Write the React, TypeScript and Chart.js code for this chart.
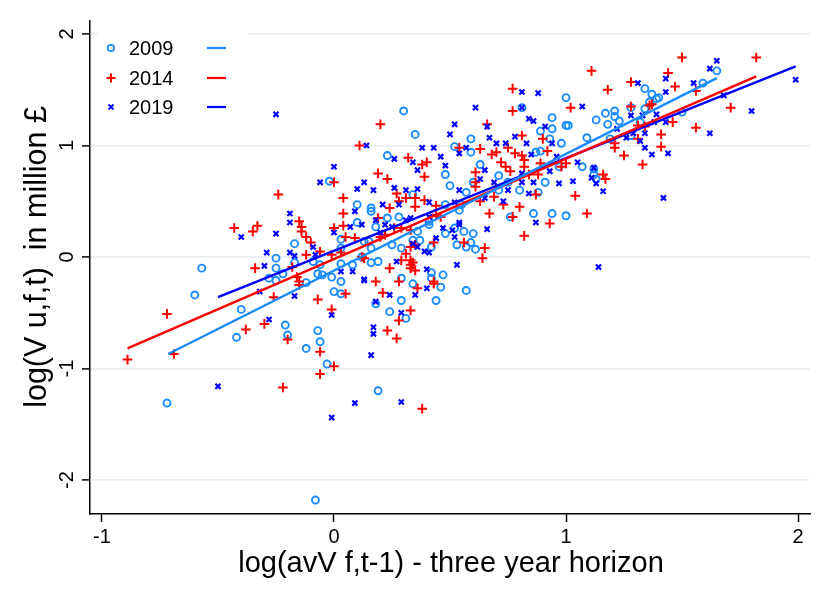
import { useEffect, useRef } from "react";
import { Chart, registerables } from "chart.js";

Chart.register(...registerables);

const FONT = '"Liberation Sans", Arial, Helvetica, sans-serif';

const xTicks = [-1, 0, 1, 2];
const yTicks = [-2, -1, 0, 1, 2];
const seriesLabels = ["2009", "2014", "2019"];
const xTitle = "log(avV f,t-1) - three year horizon";
const yTitle = "log(V u,f,t)  in million £";

// [x, y]
const pts2009: number[][] = [
  [-0.02, 0.68], [0.30, 1.31], [0.35, 1.10], [0.23, 0.91], [0.48, 0.74], [0.52, 0.99], [0.59, 0.94], [0.59, 1.06],
  [0.63, 0.83], [0.81, 1.34], [1.00, 1.43], [0.94, 1.25], [1.00, 1.18], [0.89, 1.13], [0.94, 1.15], [0.93, 1.06],
  [0.98, 1.02], [0.87, 0.94], [0.89, 0.95], [0.71, 0.73], [0.75, 0.67], [0.97, 0.81], [0.91, 0.67], [0.60, 0.67],
  [0.50, 0.64], [1.65, 1.67], [1.59, 1.56], [1.34, 1.51], [1.37, 1.46], [1.39, 1.42], [1.40, 1.43], [1.36, 1.39],
  [1.34, 1.33], [1.28, 1.34], [1.17, 1.29], [1.21, 1.31], [1.13, 1.23], [1.21, 1.26], [1.23, 1.22], [1.18, 1.19],
  [1.32, 1.21], [1.50, 1.30], [1.01, 1.18], [1.28, 1.09], [1.09, 1.07], [1.19, 1.06], [1.07, 0.81], [1.12, 0.79],
  [1.12, 0.74], [1.13, 0.70], [-0.17, 0.12], [-0.25, -0.01], [-0.17, -0.05], [-0.25, -0.10], [-0.22, -0.15],
  [-0.28, -0.19], [-0.25, -0.21], [-0.57, -0.10], [-0.60, -0.34], [-0.09, -0.04], [-0.06, -0.07], [-0.07, -0.15],
  [-0.05, -0.16], [-0.12, -0.23], [-0.40, -0.47], [-0.42, -0.72], [-0.21, -0.61], [-0.20, -0.70], [-0.07, -0.66],
  [-0.06, -0.76], [-0.12, -0.82], [-0.72, -1.31], [-0.03, -0.96], [0.19, -1.20], [-0.08, -2.18], [0.34, 0.56],
  [0.57, 0.58], [0.71, 0.60], [0.80, 0.60], [0.88, 0.58], [0.10, 0.47], [0.16, 0.44], [0.16, 0.41], [0.48, 0.47],
  [0.54, 0.42], [0.55, 0.47], [0.76, 0.36], [0.86, 0.39], [0.94, 0.39], [1.00, 0.37], [0.03, 0.16], [0.10, 0.31],
  [0.13, 0.14], [0.15, 0.14], [0.18, 0.27], [0.23, 0.35], [0.28, 0.36], [0.36, 0.23], [0.37, 0.15], [0.34, 0.15],
  [0.29, 0.08], [0.25, 0.11], [0.42, 0.09], [0.41, 0.29], [0.41, 0.32], [0.48, 0.21], [0.52, 0.26], [0.56, 0.23],
  [0.53, 0.11], [0.57, 0.09], [0.60, 0.21], [0.59, 0.13], [0.61, 0.07], [0.03, 0.08], [0.03, -0.06], [-0.01, -0.18],
  [0.03, -0.22], [0.00, -0.31], [0.03, -0.33], [0.08, -0.07], [0.12, 0.00], [0.16, 0.08], [0.16, -0.05], [0.19, -0.04],
  [0.18, -0.42], [0.29, -0.19], [0.34, -0.24], [0.29, -0.39], [0.24, -0.49], [0.31, -0.55], [0.42, -0.14],
  [0.42, -0.19], [0.46, -0.27], [0.47, -0.16], [0.44, -0.39], [0.57, -0.30],
];

const pts2014: number[][] = [
  [0.20, 1.19], [0.11, 1.00], [0.32, 0.89], [0.38, 0.83], [0.40, 0.85], [0.19, 0.75], [0.23, 0.70], [0.39, 0.72],
  [0.00, 0.67], [0.54, 0.98], [0.66, 1.19], [0.63, 0.97], [0.61, 0.76], [0.68, 0.92], [0.70, 0.94], [0.75, 0.98],
  [0.77, 1.51], [0.77, 1.31], [0.81, 1.09], [0.90, 1.06], [0.81, 0.91], [0.78, 0.93], [0.92, 0.95], [0.82, 0.87],
  [0.89, 0.84], [0.82, 0.81], [0.72, 0.85], [0.74, 0.81], [0.76, 0.77], [0.84, 0.74], [0.88, 0.74], [0.98, 0.81],
  [1.00, 0.84], [0.61, 0.67], [1.50, 1.79], [1.82, 1.79], [1.11, 1.67], [1.44, 1.65], [1.47, 1.53], [1.28, 1.57],
  [1.18, 1.50], [1.56, 1.49], [1.37, 1.37], [1.36, 1.36], [1.28, 1.35], [1.71, 1.34], [1.02, 1.34], [1.46, 1.21],
  [1.31, 1.18], [1.34, 1.17], [1.56, 1.16], [1.41, 1.10], [1.31, 1.06], [1.41, 0.99], [1.21, 1.02], [1.21, 0.98],
  [1.25, 0.91], [1.33, 0.83], [1.16, 0.74], [1.17, 0.70], [-0.24, 0.56], [-0.15, 0.32], [-0.14, 0.27], [-0.14, 0.23],
  [-0.43, 0.26], [-0.33, 0.28], [-0.35, 0.23], [-0.12, 0.18], [-0.10, 0.13], [-0.06, 0.05], [-0.12, 0.02],
  [-0.34, -0.10], [-0.18, -0.09], [-0.16, -0.18], [-0.15, -0.22], [-0.15, -0.25], [-0.26, -0.36], [-0.07, -0.38],
  [-0.72, -0.51], [-0.38, -0.65], [-0.30, -0.60], [-0.20, -0.74], [-0.89, -0.92], [-0.69, -0.87], [-0.22, -1.17],
  [-0.06, -0.85], [0.00, -0.98], [-0.06, -1.05], [0.38, -1.36], [0.27, 0.57], [0.61, 0.63], [0.87, 0.56],
  [0.04, 0.53], [0.04, 0.39], [0.24, 0.44], [0.28, 0.50], [0.31, 0.53], [0.35, 0.53], [0.35, 0.45], [0.39, 0.51],
  [0.44, 0.46], [0.63, 0.50], [0.69, 0.54], [0.73, 0.47], [0.80, 0.45], [0.77, 0.36], [0.67, 0.39], [0.93, 0.30],
  [0.82, 0.19], [0.00, 0.26], [0.04, 0.28], [0.05, 0.18], [0.09, 0.17], [0.19, 0.35], [0.22, 0.20], [0.20, 0.18],
  [0.26, 0.26], [0.29, 0.26], [0.33, 0.24], [0.33, 0.09], [0.35, 0.11], [0.31, 0.03], [0.43, 0.13], [0.44, 0.38],
  [0.46, 0.36], [0.56, 0.13], [0.65, 0.08], [0.64, -0.01], [-0.01, 0.02], [0.03, 0.04], [0.05, -0.33], [0.12, 0.00],
  [0.13, -0.01], [0.18, -0.22], [0.21, -0.32], [0.24, -0.10], [0.28, -0.22], [0.33, -0.07], [0.34, -0.05],
  [0.33, -0.10], [0.35, -0.12], [0.36, -0.28], [0.33, -0.48], [0.28, -0.57], [0.23, -0.66], [0.27, -0.73],
  [-0.01, -0.47], [0.43, -0.22], [0.43, -0.24], [0.29, -0.03], [0.33, -0.03], [1.04, 0.55], [1.09, 0.39],
];

const pts2019: number[][] = [
  [-0.25, 1.28], [-0.06, 0.67], [0.14, 1.00], [0.26, 0.88], [0.34, 0.85], [0.36, 0.78], [0.00, 0.81], [0.13, 0.67],
  [0.38, 0.98], [0.43, 0.98], [0.46, 0.90], [0.48, 0.82], [0.54, 0.93], [0.57, 0.98], [0.50, 1.10], [0.52, 1.19],
  [0.66, 1.17], [0.61, 1.34], [0.67, 1.07], [0.65, 0.78], [0.70, 1.02], [0.74, 1.02], [0.81, 1.48], [0.88, 1.47],
  [0.81, 1.34], [0.84, 1.24], [0.86, 1.22], [0.91, 1.17], [0.78, 1.08], [0.83, 1.02], [0.94, 1.02], [0.85, 0.92],
  [0.96, 0.90], [0.81, 0.75], [0.93, 0.77], [0.97, 0.66], [0.86, 0.67], [0.81, 0.67], [0.69, 0.67], [0.63, 0.70],
  [1.65, 1.76], [1.62, 1.69], [1.43, 1.60], [1.55, 1.56], [1.31, 1.56], [1.43, 1.48], [1.68, 1.45], [1.99, 1.59],
  [1.80, 1.31], [1.07, 1.35], [1.28, 1.27], [1.33, 1.27], [1.39, 1.28], [1.38, 1.21], [1.43, 1.21], [1.22, 1.15],
  [1.62, 1.11], [1.29, 1.11], [1.34, 1.11], [1.26, 1.07], [1.32, 1.04], [1.34, 0.98], [1.37, 0.92], [1.44, 0.93],
  [1.05, 0.85], [1.12, 0.80], [1.11, 0.71], [1.03, 0.68], [1.13, 0.66], [-0.19, 0.39], [-0.19, 0.31], [-0.40, 0.18],
  [-0.25, 0.21], [-0.09, 0.09], [-0.29, 0.04], [-0.19, 0.04], [-0.17, 0.01], [-0.08, 0.02], [-0.32, -0.31],
  [-0.30, -0.08], [-0.17, -0.35], [-0.28, -0.56], [-0.50, -1.16], [0.16, -0.88], [0.09, -1.31], [-0.01, -1.44],
  [0.29, -1.30], [0.10, 0.61], [0.17, 0.60], [0.26, 0.62], [0.31, 0.60], [0.36, 0.61], [0.54, 0.60], [0.75, 0.60],
  [0.84, 0.57], [0.09, 0.41], [0.21, 0.47], [0.28, 0.47], [0.41, 0.49], [0.52, 0.49], [0.65, 0.53], [0.73, 0.50],
  [0.87, 0.31], [0.66, 0.25], [0.00, 0.22], [0.07, 0.27], [0.12, 0.29], [0.18, 0.33], [0.22, 0.29], [0.20, 0.22],
  [0.25, 0.27], [0.31, 0.33], [0.33, 0.35], [0.34, 0.12], [0.36, 0.09], [0.39, 0.05], [0.41, 0.04], [0.44, 0.17],
  [0.41, 0.36], [0.47, 0.26], [0.51, 0.24], [0.52, 0.18], [0.54, 0.31], [0.54, 0.29], [0.53, -0.07], [0.08, -0.13],
  [0.03, -0.13], [0.13, -0.21], [0.24, -0.34], [0.18, -0.40], [0.27, -0.04], [0.35, -0.34], [0.29, -0.50],
  [0.17, -0.63], [0.17, -0.69], [-0.01, -0.52], [0.40, -0.11], [0.40, -0.28], [0.13, -0.20], [1.16, 0.59],
  [1.42, 0.53], [1.14, -0.09],
];

// fitted line end points
const fit2009 = [[-0.715, -0.87], [1.65, 1.605]];
const fit2014 = [[-0.89, -0.82], [1.82, 1.62]];
const fit2019 = [[-0.5, -0.36], [1.99, 1.71]];

const colors = ["#1a8cff", "#ff0000", "#0000ff"];

const toXY = (pts: number[][]) => pts.map(([x, y]) => ({ x, y }));

const decor = {
  id: "decor",
  beforeDatasetsDraw(chart: Chart) {
    const ctx = chart.ctx;
    ctx.save();
    ctx.fillStyle = "#fff";
    ctx.fillRect(98, 24, 150, 100);
    ctx.restore();
  },
  afterDraw(chart: Chart) {
    const ctx = chart.ctx;
    const xs = chart.scales.x;
    const ys = chart.scales.y;
    ctx.save();
    ctx.fillStyle = "#000";
    ctx.font = `20px ${FONT}`;
    ctx.textAlign = "center";
    ctx.textBaseline = "alphabetic";
    xTicks.forEach((v) => ctx.fillText(String(v), xs.getPixelForValue(v), 543));
    yTicks.forEach((v) => {
      ctx.save();
      ctx.translate(73, ys.getPixelForValue(v));
      ctx.rotate(-Math.PI / 2);
      ctx.fillText(String(v), 0, 0);
      ctx.restore();
    });

    ctx.font = `29px ${FONT}`;
    ctx.fillText(xTitle, 451, 572);
    ctx.save();
    ctx.translate(46, 257);
    ctx.rotate(-Math.PI / 2);
    ctx.font = `30.5px ${FONT}`;
    ctx.fillText(yTitle, 0, 0);
    ctx.restore();

    // legend
    const rows = [48, 78, 107];
    ctx.font = `20px ${FONT}`;
    ctx.textAlign = "left";
    rows.forEach((ry, i) => {
      ctx.fillStyle = "#000";
      ctx.fillText(seriesLabels[i], 129, ry + 7);
      ctx.strokeStyle = colors[i];
      ctx.lineWidth = 2.2;
      ctx.beginPath();
      ctx.moveTo(207, ry);
      ctx.lineTo(226, ry);
      ctx.stroke();
      ctx.beginPath();
      if (i === 0) {
        ctx.lineWidth = 1.8;
        ctx.arc(111, ry, 3.2, 0, Math.PI * 2);
      } else if (i === 1) {
        ctx.lineWidth = 2;
        ctx.moveTo(106.5, ry);
        ctx.lineTo(115.5, ry);
        ctx.moveTo(111, ry - 4.5);
        ctx.lineTo(111, ry + 4.5);
      } else {
        ctx.lineWidth = 2;
        ctx.moveTo(108.5, ry - 2.5);
        ctx.lineTo(113.5, ry + 2.5);
        ctx.moveTo(113.5, ry - 2.5);
        ctx.lineTo(108.5, ry + 2.5);
      }
      ctx.stroke();
    });
    ctx.restore();
  },
};

const App = () => {
  const canvasRef = useRef<HTMLCanvasElement | null>(null);
  const chartRef = useRef<Chart | null>(null);

  useEffect(() => {
    document.body.style.margin = "0";
    if (chartRef.current !== null) {
      chartRef.current.destroy();
    }
    if (canvasRef.current === null) return;

    const fitLine = (pts: number[][], color: string) => ({
      type: "scatter" as const,
      data: toXY(pts),
      showLine: true,
      borderColor: color,
      borderWidth: 2.4,
      pointRadius: 0,
      order: 0,
    });

    chartRef.current = new Chart(canvasRef.current, {
      type: "scatter",
      data: {
        datasets: [
          fitLine(fit2009, colors[0]),
          fitLine(fit2014, colors[1]),
          fitLine(fit2019, colors[2]),
          {
            data: toXY(pts2019),
            pointStyle: "crossRot",
            pointRadius: 3.6,
            borderColor: colors[2],
            backgroundColor: colors[2],
            pointBorderWidth: 2.2,
            order: 1,
          },
          {
            data: toXY(pts2014),
            pointStyle: "cross",
            pointRadius: 4.8,
            borderColor: colors[1],
            backgroundColor: colors[1],
            pointBorderWidth: 2,
            order: 2,
          },
          {
            data: toXY(pts2009),
            pointStyle: "circle",
            pointRadius: 3.5,
            borderColor: colors[0],
            backgroundColor: "rgba(0,0,0,0)",
            pointBorderWidth: 1.9,
            order: 3,
          },
        ],
      },
      options: {
        animation: false,
        responsive: false,
        devicePixelRatio: 1,
        layout: { padding: { top: 21, right: 20, left: 0, bottom: 0 } },
        plugins: { legend: { display: false }, tooltip: { enabled: false } },
        scales: {
          x: {
            type: "linear",
            min: -1.0517,
            max: 2.0517,
            afterFit: (s: any) => {
              s.height = 90;
            },
            afterBuildTicks: (s: any) => {
              s.ticks = xTicks.map((v) => ({ value: v }));
            },
            ticks: { display: false },
            grid: {
              drawOnChartArea: false,
              drawTicks: true,
              tickLength: 8,
              tickColor: "#000",
              tickWidth: 1.5,
            },
            border: { color: "#000", width: 1.5 },
          },
          y: {
            type: "linear",
            min: -2.305,
            max: 2.117,
            afterFit: (s: any) => {
              s.width = 90;
            },
            afterBuildTicks: (s: any) => {
              s.ticks = yTicks.map((v) => ({ value: v }));
            },
            ticks: { display: false },
            grid: {
              color: "#e8f0f2",
              lineWidth: 1.8,
              drawTicks: true,
              tickLength: 8,
              tickColor: "#000",
              tickWidth: 1.5,
            },
            border: { color: "#000", width: 1.5 },
          },
        },
      },
      plugins: [decor],
    });

    return () => {
      if (chartRef.current !== null) {
        chartRef.current.destroy();
        chartRef.current = null;
      }
    };
  }, []);

  return (
    <div style={{ width: 830, height: 604, background: "#fff" }}>
      <canvas ref={canvasRef} width={830} height={604} style={{ width: 830, height: 604 }} />
    </div>
  );
};

export default App;
